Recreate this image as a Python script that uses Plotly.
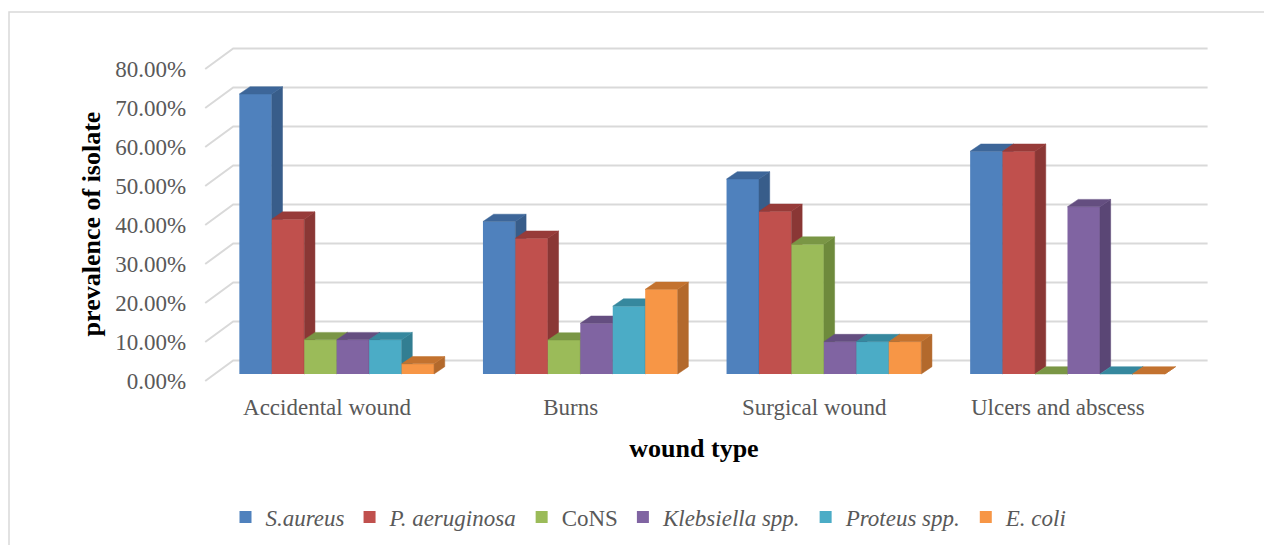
import plotly.graph_objects as go

# ---------------- data ----------------
categories = ["Accidental wound", "Burns", "Surgical wound", "Ulcers and abscess"]
series_names = ["<i>S.aureus</i>", "<i>P. aeruginosa</i>", "CoNS",
                "<i>Klebsiella spp.</i>", "<i>Proteus spp.</i>", "<i>E. coli</i>"]
s_aureus = [71.8, 39.1, 50.0, 57.1]
p_aeruginosa = [39.7, 34.8, 41.7, 57.1]
cons = [8.8, 8.7, 33.3, 0.0]
klebsiella = [8.8, 13.0, 8.3, 42.9]
proteus = [8.8, 17.4, 8.3, 0.0]
e_coli = [2.6, 21.7, 8.3, 0.0]
y_ticks = [0, 10, 20, 30, 40, 50, 60, 70, 80]

series_values = [s_aureus, p_aeruginosa, cons, klebsiella, proteus, e_coli]

# ---------------- style ----------------
front_col = ['#4F81BD', '#C0504D', '#9BBB59', '#8064A2', '#4BACC6', '#F79646']
side_col = ['#385D8A', '#8A3735', '#6E8A3C', '#5A4675', '#327E92', '#B3692C']
top_col = ['#3D6699', '#973B39', '#7A9645', '#644E80', '#36889E', '#C3722F']
grid_col = '#D9D9D9'
FONT = "Liberation Serif"

OFF = 8                                    # page body margin
W, H = 1272, 545
L, R, T, B = 158 - OFF, 1230 - OFF, 28 - OFF, 420 - OFF   # plot area (figure px)
U = 243.6                                  # px per category
X0PX = 327.0 - OFF                         # px of category 0 (front plane)
Y0PX = 381.0 - OFF                         # px of 0% on front plane
PXY = 3.9                                  # px per percent
xr = [(L - X0PX) / U, (R - X0PX) / U]
yr = [-(B - Y0PX) / PXY, (Y0PX - T) / PXY]

# 3-D pseudo depth (in data units)
dxw, dyw = 28 / U, 20.5 / PXY             # full wall depth
offx, base = 9.7 / U, 7.0 / PXY           # bar front plane offset
bw = 32.45 / U                             # bar width
ddx, ddy = 10.7 / U, 7.3 / PXY            # bar depth

fig = go.Figure()

# back wall gridlines + diagonals (main subplot)
gx, gy = [], []
for v in y_ticks:
    gx += [-0.5, -0.5 + dxw, len(categories) - 0.5 + dxw, None]
    gy += [v, v + dyw, v + dyw, None]
fig.add_trace(go.Scatter(x=gx, y=gy, mode='lines', line=dict(color=grid_col, width=2),
                         hoverinfo='skip', showlegend=False))

# bars: each series in its own overlaid subplot so later series paint over earlier
for j, (name, vals) in enumerate(zip(series_names, series_values)):
    ax = str(j + 2)
    centers = [k + offx + (j - 2.5) * bw for k in range(len(categories))]
    fig.add_trace(go.Bar(x=centers, y=vals, base=base, width=bw, name=name,
                         marker=dict(color=front_col[j], line=dict(width=0)),
                         xaxis='x' + ax, yaxis='y' + ax))
    sx, sy, tx, ty = [], [], [], []
    for c, v in zip(centers, vals):
        xl, xrt = c - bw / 2, c + bw / 2
        y0, y1 = base, base + v
        sx += [xrt, xrt + ddx, xrt + ddx, xrt, xrt, None]
        sy += [y0, y0 + ddy, y1 + ddy, y1, y0, None]
        tx += [xl, xrt, xrt + ddx, xl + ddx, xl, None]
        ty += [y1, y1, y1 + ddy, y1 + ddy, y1, None]
    fig.add_trace(go.Scatter(x=sx, y=sy, mode='lines', fill='toself', fillcolor=side_col[j],
                             line=dict(color=side_col[j], width=0.5), hoverinfo='skip',
                             showlegend=False, xaxis='x' + ax, yaxis='y' + ax))
    fig.add_trace(go.Scatter(x=tx, y=ty, mode='lines', fill='toself', fillcolor=top_col[j],
                             line=dict(color=top_col[j], width=0.5), hoverinfo='skip',
                             showlegend=False, xaxis='x' + ax, yaxis='y' + ax))

layout = dict(
    width=W, height=H,
    margin=dict(l=L, r=W - R, t=T, b=H - B),
    paper_bgcolor='white', plot_bgcolor='rgba(0,0,0,0)',
    barmode='overlay',
    font=dict(family=FONT, color='#595959', size=23),
    xaxis=dict(range=xr, tickmode='array', tickvals=list(range(len(categories))),
               ticktext=categories, showgrid=False, zeroline=False, showline=False,
               ticks='', ticklabelstandoff=-29, anchor='y',
               tickfont=dict(family=FONT, size=23, color='#595959'),
               title=dict(text='<b>wound type</b>', standoff=19,
                          font=dict(family=FONT, size=26, color='black'))),
    yaxis=dict(range=yr, tickmode='array', tickvals=y_ticks,
               ticktext=[f"{v:.2f}%" for v in y_ticks],
               showgrid=False, zeroline=False, showline=False, ticks='',
               anchor='free', position=(X0PX - 0.5 * U - L) / (R - L), ticklabelstandoff=19,
               tickfont=dict(family=FONT, size=23, color='#595959'),
               title=dict(text='<b>prevalence of isolate</b>', standoff=6,
                          font=dict(family=FONT, size=26, color='black'))),
    legend=dict(orientation='h', x=(649 - OFF - L) / (R - L), xanchor='center',
                y=(B - (517 - OFF)) / (B - T), yanchor='middle',
                font=dict(family=FONT, size=23, color='#595959'),
                itemwidth=30, bgcolor='rgba(0,0,0,0)'),
    shapes=[dict(type='rect', xref='paper', yref='paper',
                 x0=(9 - OFF - L) / (R - L), x1=1.2, y0=-0.5, y1=(B - (12 - OFF)) / (B - T),
                 line=dict(color='#D9D9D9', width=1.5), layer='below')],
)
for j in range(len(series_values)):
    ax = str(j + 2)
    layout['xaxis' + ax] = dict(range=xr, overlaying='x', visible=False, anchor='y' + ax)
    layout['yaxis' + ax] = dict(range=yr, overlaying='y', visible=False, anchor='x' + ax)

fig.update_layout(**layout)
fig.write_html("out.html")
